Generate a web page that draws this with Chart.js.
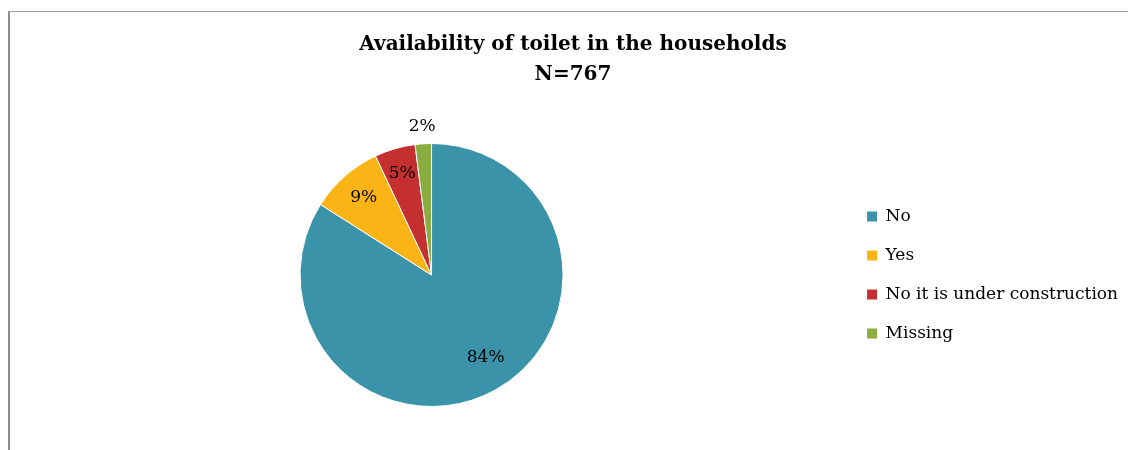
<!DOCTYPE html>
<html>
<head>
<meta charset="utf-8">
<script src="https://cdn.jsdelivr.net/npm/chart.js@4.4.1/dist/chart.umd.min.js"></script>
<style>
    html, body { margin: 0; padding: 0; background: #ffffff; overflow: hidden; }
    .frame {
        position: absolute;
        left: 8px;
        top: 11px;
        width: 1118px;
        height: 438px;
        border-left: 2px solid #8c8c8c;
        border-top: 1px solid #a0a0a0;
    }
    .frame canvas { display: block; }
</style>
</head>
<body>
<div class="frame">
    <canvas id="toiletChart" width="1118" height="438"></canvas>
</div>
<script>
const categories = ["No", "Yes", "No it is under construction", "Missing"];
const percentages = [84, 9, 5, 2];
const titleLines = ["Availability of toilet in the households", "N=767"];

document.addEventListener("DOMContentLoaded", function () {
    const palette = {
        teal: "#3b93a9",
        amber: "#fbb416",
        red: "#c4302f",
        green: "#89ad3f",
        text: "#000000",
    };

    const serif = "'DejaVu Serif', 'Liberation Serif', serif";

    // where each percentage label sits: share of the radius, and a small turn in degrees
    const labelRadius = [0.75, 0.78, 0.8, 1.13];
    const labelTurn = [-4.5, 0, 0, 0];

    const sliceLabels = {
        id: "sliceLabels",
        afterDatasetsDraw(chart) {
            const ctx = chart.ctx;
            const meta = chart.getDatasetMeta(0);
            ctx.save();
            ctx.font = "17px " + serif;
            ctx.fillStyle = palette.text;
            ctx.textAlign = "center";
            ctx.textBaseline = "middle";
            meta.data.forEach((arc, i) => {
                const p = arc.getProps(["x", "y", "startAngle", "endAngle", "outerRadius"], true);
                const mid = (p.startAngle + p.endAngle) / 2 + labelTurn[i] * Math.PI / 180;
                const r = p.outerRadius * labelRadius[i];
                ctx.fillText(percentages[i] + "%", p.x + Math.cos(mid) * r, p.y + Math.sin(mid) * r);
            });
            ctx.restore();
        },
    };

    const defaultLabels = Chart.overrides.pie.plugins.legend.labels.generateLabels;

    new Chart(document.getElementById("toiletChart"), {
        type: "pie",
        data: {
            labels: categories,
            datasets: [
                {
                    data: percentages,
                    backgroundColor: [palette.teal, palette.amber, palette.red, palette.green],
                    borderColor: "#ffffff",
                    borderWidth: 1,
                },
            ],
        },
        options: {
            responsive: false,
            animation: false,
            layout: {
                padding: { left: 8, right: 0, top: 0, bottom: 43 },
            },
            plugins: {
                title: {
                    display: true,
                    text: titleLines,
                    color: palette.text,
                    font: { family: serif, size: 20, weight: "bold", lineHeight: 1.5 },
                    padding: { top: 18, bottom: 53 },
                },
                legend: {
                    position: "right",
                    fullSize: false,
                    labels: {
                        color: palette.text,
                        font: { family: serif, size: 17 },
                        boxWidth: 10,
                        boxHeight: 10,
                        padding: 22,
                        generateLabels(chart) {
                            // plain squares, no white outline
                            return defaultLabels(chart).map((item) => ({ ...item, lineWidth: 0 }));
                        },
                    },
                },
                tooltip: { enabled: false },
            },
        },
        plugins: [sliceLabels],
    });
});
</script>
</body>
</html>
